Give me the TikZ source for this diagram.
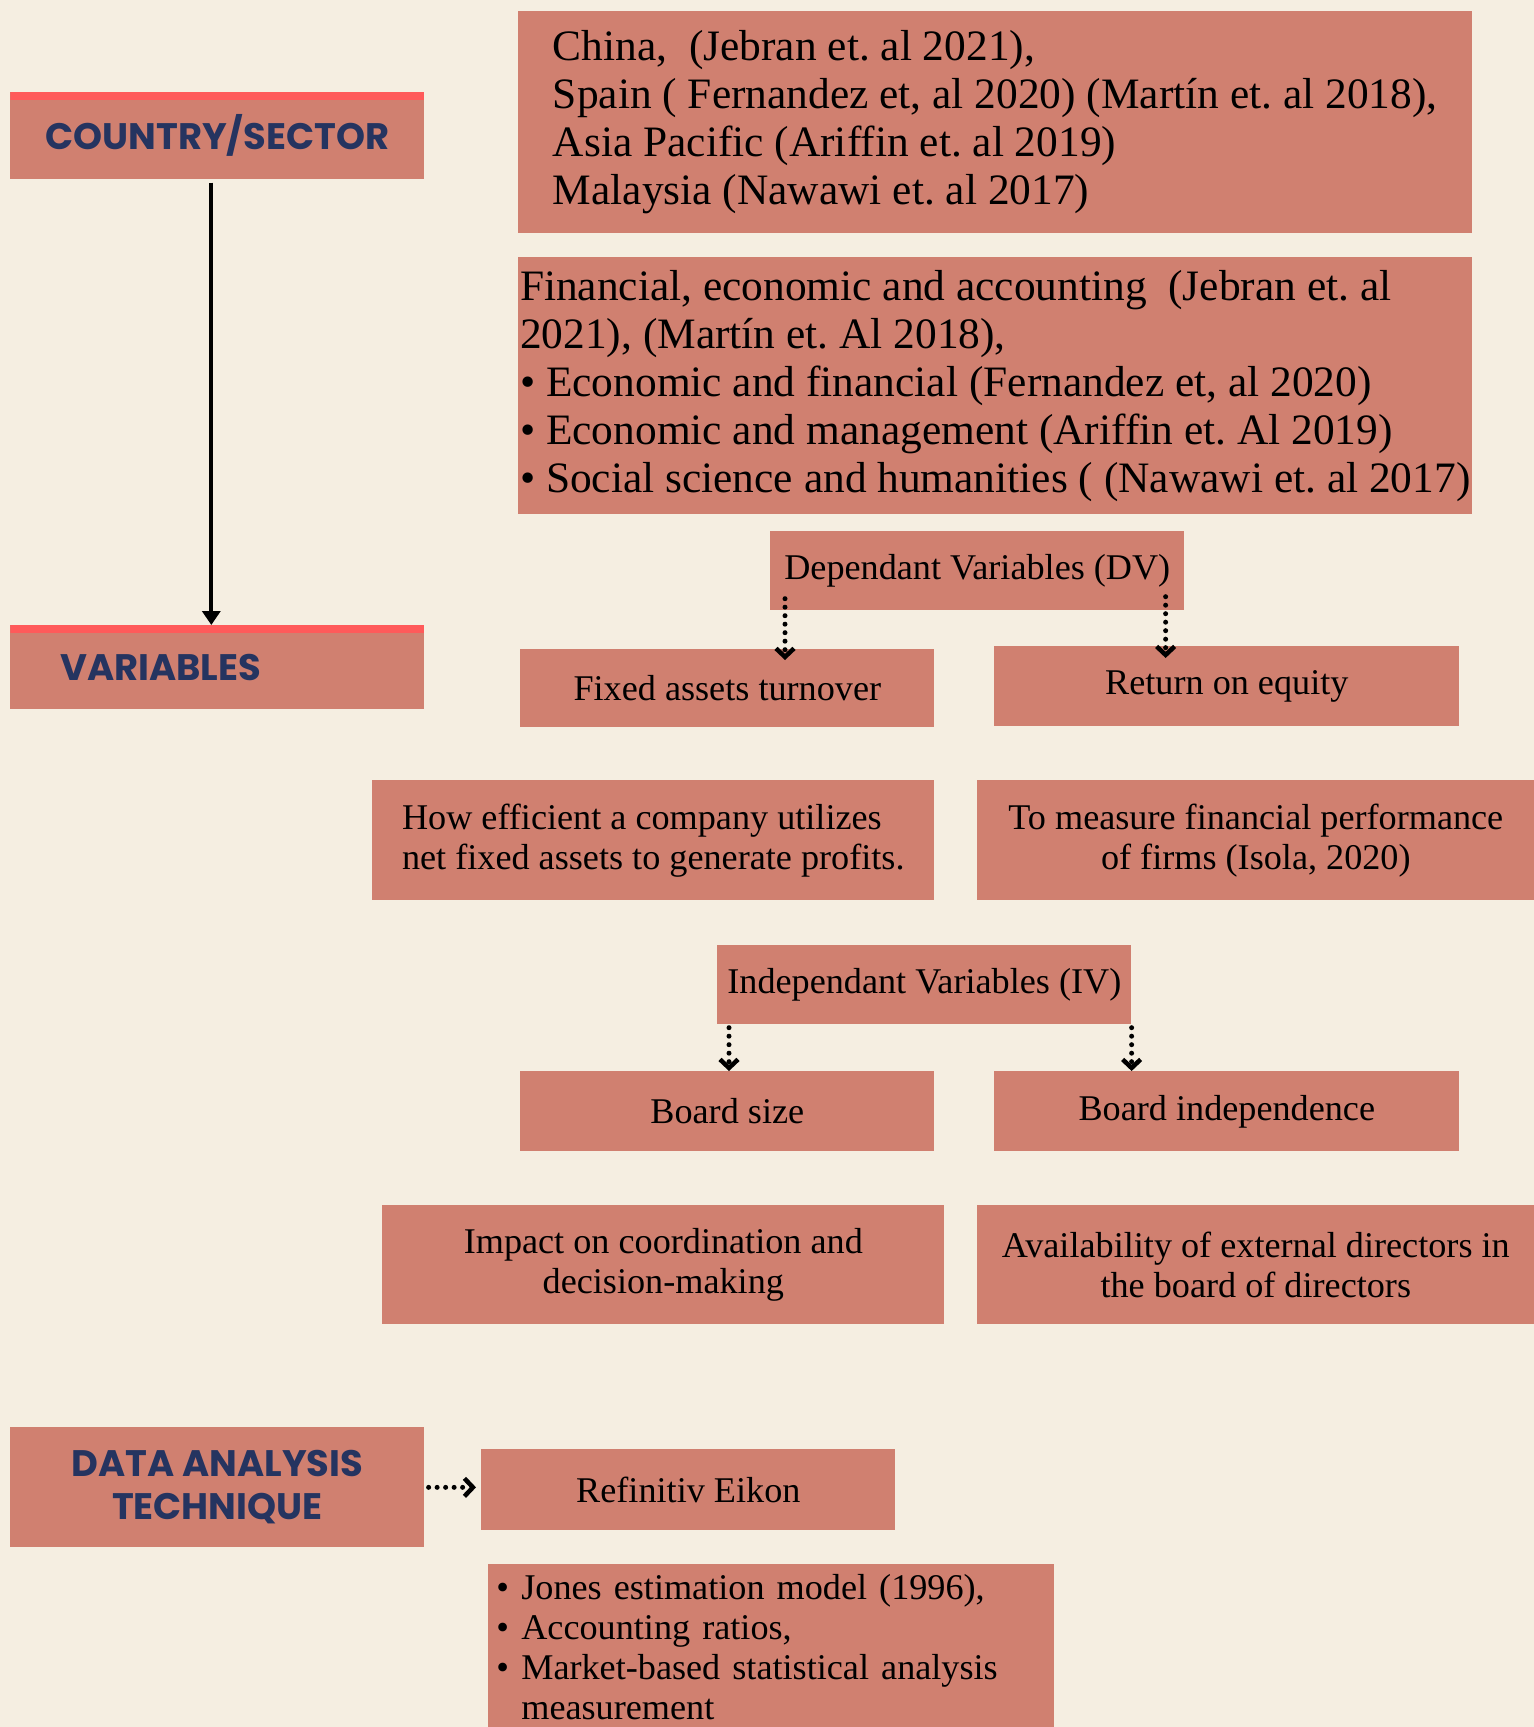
\documentclass[tikz,border=0pt]{standalone}
\usepackage{fontspec}
\setmainfont{Liberation Serif}
\newfontfamily\headfont{Poppins}
\usetikzlibrary{arrows.meta}
\definecolor{paper}{RGB}{245,238,225}
\definecolor{brick}{RGB}{208,128,112}
\definecolor{redbar}{RGB}{255,90,90}
\definecolor{navy}{RGB}{37,52,96}
\frenchspacing

\begin{document}
\begin{tikzpicture}[
	x=0.02cm, y=-0.02cm,
	cell/.style={
		fill=brick,
		anchor=north west,
		inner sep=0pt,
		align=center,
		minimum width=8.28cm
		},
	big/.style={
		font=\fontsize{24.7}{27.3}\selectfont
	},
	small/.style={
		font=\fontsize{20.6}{22.8}\selectfont
	},
	head/.style={
		cell,
		text=navy,
		font=\headfont\bfseries\fontsize{21}{24.5}\selectfont
	},
	topbar/.style={
		path picture={\fill[redbar] (path picture bounding box.north west) rectangle ([yshift=-0.15cm]path picture bounding box.north east);}
	},
	link/.style={
		line width=0.08cm,
		-{Triangle[width=0.36cm,length=0.28cm]}
	},
	dots/.style={
		line width=0.1cm,
		line cap=round,
		dash pattern=on 0pt off 0.17cm,
		-{Straight Barb[width=0.36cm,length=0.17cm,line width=0.09cm]}
	}
]

% Page
\fill[paper] (0,0) rectangle (1534,1727);
\clip (0,0) rectangle (1534,1727);

% Headings
\node [head, topbar, minimum height=1.74cm] (Country) at (10,92) {COUNTRY/SECTOR};
\node [head, topbar, minimum height=1.68cm, align=left, text width=6.28cm, inner xsep=1cm] (Variables) at (10,625) {VARIABLES};
\node [head, minimum height=2.4cm] (Data) at (10,1427) {DATA ANALYSIS\\TECHNIQUE};

% Country/sector
\node [cell, big, align=left, minimum width=19.08cm, minimum height=4.44cm] (Countries) at (518,11) {China,~ (Jebran et. al 2021),\\Spain ( Fernandez et, al 2020) (Martín et. al 2018),\\Asia Pacific (Ariffin et. al 2019)\\Malaysia (Nawawi et. al 2017)};
\node [cell, big, align=left, minimum width=19.08cm, minimum height=5.14cm] (Sectors) at (518,257) {Financial, economic and accounting~ (Jebran et. al\\2021), (Martín et. Al 2018),\\• Economic and financial (Fernandez et, al 2020)\\• Economic and management (Ariffin et. Al 2019)\\• Social science and humanities ( (Nawawi et. al 2017)};

% Dependant variables
\node [cell, small, minimum height=1.58cm] (DV) at (770,531) {Dependant Variables (DV)};
\node [cell, small, minimum height=1.56cm] (Turnover) at (520,649) {Fixed assets turnover};
\node [cell, small, minimum width=9.3cm, minimum height=1.6cm] (ROE) at (994,646) {Return on equity};
\node [cell, small, align=left, minimum width=11.24cm, minimum height=2.4cm] (Efficiency) at (372,780) {How efficient a company utilizes\\net fixed assets to generate profits.};
\node [cell, small, minimum width=11.14cm, minimum height=2.4cm] (Performance) at (977,780) {To measure financial performance\\of firms (Isola, 2020)};

% Independant variables
\node [cell, small, minimum height=1.58cm] (IV) at (717,945) {Independant Variables (IV)};
\node [cell, small, minimum height=1.6cm] (Size) at (520,1071) {Board size};
\node [cell, small, minimum width=9.3cm, minimum height=1.6cm] (Independence) at (994,1071) {Board independence};
\node [cell, small, minimum width=11.24cm, minimum height=2.38cm] (Coordination) at (382,1205) {Impact on coordination and\\decision-making};
\node [cell, small, minimum width=11.14cm, minimum height=2.38cm] (Directors) at (977,1205) {Availability of external directors in\\the board of directors};

% Data analysis
\node [cell, small, minimum height=1.62cm] (Eikon) at (481,1449) {Refinitiv Eikon};
\node [cell, small, align=left, text width=11cm, inner xsep=0.16cm, minimum height=3.3cm] (Methods) at (488,1564) {\makebox[0.5cm][l]{•}Jones estimation model (1996),\\\makebox[0.5cm][l]{•}Accounting ratios,\\\makebox[0.5cm][l]{•}Market-based statistical analysis\\\hspace*{0.5cm}measurement};

% Connectors
\coordinate (dvl) at ([xshift=0.3cm]DV.south west);
\coordinate (dvr) at ([xshift=-0.38cm]DV.south east);
\coordinate (ivl) at ([xshift=0.24cm]IV.south west);
\coordinate (ivr) at (IV.south east);
\draw [link, shorten <=0.06cm] ([xshift=-0.12cm]Country.south) -- ([xshift=-0.12cm]Variables.north);
\draw [dots, shorten <=-0.24cm, shorten >=-0.22cm] (dvl) -- (dvl |- Turnover.north);
\draw [dots, shorten <=-0.28cm, shorten >=-0.24cm] (dvr) -- (dvr |- ROE.north);
\draw [dots, shorten <=0.06cm] (ivl) -- (ivl |- Size.north);
\draw [dots, shorten <=0.06cm] (ivr) -- (ivr |- Independence.north);
\draw [dots, shorten <=0.08cm, shorten >=0.1cm] (Data.east) -- (Data.east -| Eikon.west);

\end{tikzpicture}
\end{document}
